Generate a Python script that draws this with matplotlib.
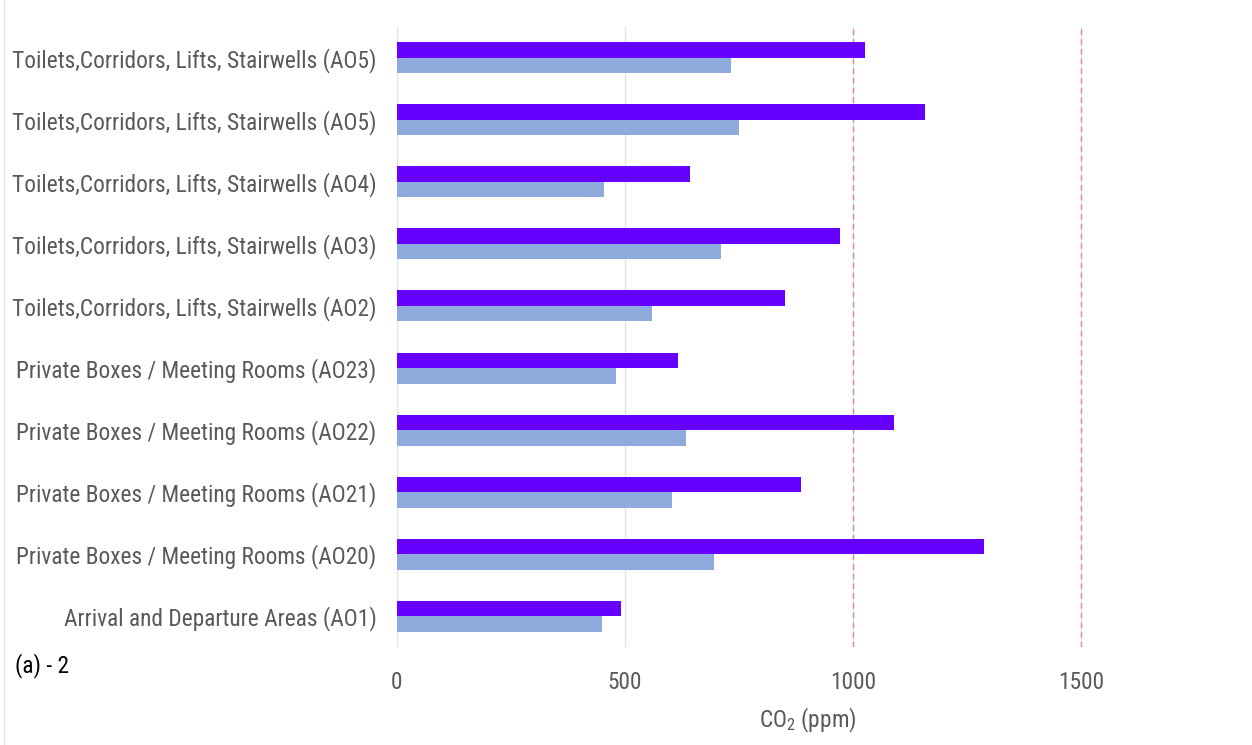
import matplotlib
matplotlib.use("Agg")
import matplotlib.pyplot as plt
from matplotlib.lines import Line2D
import numpy as np

# categories from bottom to top
categories = [
    "Arrival and Departure Areas (AO1)",
    "Private Boxes / Meeting Rooms (AO20)",
    "Private Boxes / Meeting Rooms (AO21)",
    "Private Boxes / Meeting Rooms (AO22)",
    "Private Boxes / Meeting Rooms (AO23)",
    "Toilets,Corridors, Lifts, Stairwells (AO2)",
    "Toilets,Corridors, Lifts, Stairwells (AO3)",
    "Toilets,Corridors, Lifts, Stairwells (AO4)",
    "Toilets,Corridors, Lifts, Stairwells (AO5)",
    "Toilets,Corridors, Lifts, Stairwells (AO5)",
]
# upper (dark) bars and lower (light) bars, CO2 in ppm
co2_max = [491, 1288, 886, 1089, 616, 851, 971, 643, 1158, 1027]
co2_mean = [450, 695, 603, 634, 480, 560, 710, 455, 751, 732]
xticks = [0, 500, 1000, 1500]
limit_lines = [1000, 1500]

darkColor = "#6600FF"
lightColor = "#8FAADC"
textColor = "#595959"

plt.rcParams["font.family"] = ["Roboto Condensed", "Liberation Sans", "DejaVu Sans"]
plt.rcParams["mathtext.fontset"] = "custom"
plt.rcParams["mathtext.rm"] = "Roboto Condensed"

fig = plt.figure(figsize=(12.52, 7.45), dpi=100)
ax = fig.add_axes([0.317, 0.1315, 0.683, 0.8323])

y = np.arange(len(categories))
h = 0.25
ax.barh(y + h / 2, co2_max, height=h, color=darkColor, zorder=3)
ax.barh(y - h / 2, co2_mean, height=h, color=lightColor, zorder=3)

# threshold lines
for v in limit_lines:
    ax.axvline(v, color="#E8868F", linestyle=(0, (4, 3)), linewidth=1.0, zorder=2)

ax.set_xlim(0, 1875)
ax.set_ylim(-0.5, len(categories) - 0.5)
ax.set_xticks(xticks)
ax.set_yticks(y)
ax.set_yticklabels(categories)
ax.xaxis.grid(True, color="#E3E3E3", linewidth=1.0, zorder=0)
ax.set_axisbelow(True)

for s in ["top", "right", "bottom"]:
    ax.spines[s].set_visible(False)
ax.spines["left"].set_color("#E3E3E3")

ax.tick_params(axis="both", length=0, labelsize=16.8, colors=textColor)
ax.tick_params(axis="x", pad=17)
ax.tick_params(axis="y", pad=14.5)

ax.set_xlabel("CO$_\\mathregular{2}$ (ppm)", fontsize=16.8, color=textColor, labelpad=9, x=0.48)

fig.text(0.012, 0.107, "(a) - 2", fontsize=16.8, color="black", va="center")

# faint frame line on the left edge of the picture
fig.add_artist(Line2D([0.003, 0.003], [0.0, 1.0], color="#E6E6E6", linewidth=1.0))

fig.savefig("out.png", dpi=100)
